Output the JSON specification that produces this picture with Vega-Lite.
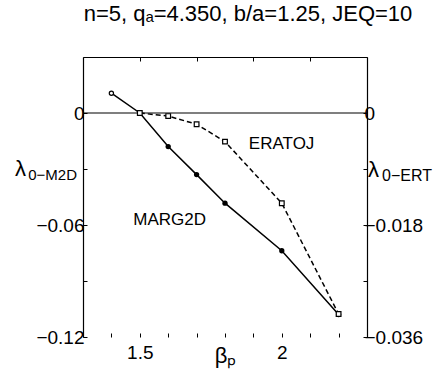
{
  "$schema": "https://vega.github.io/schema/vega-lite/v6.json",
  "width": 284,
  "height": 280,
  "autosize": {"type": "none"},
  "padding": {"left": 83, "top": 57, "right": 75, "bottom": 40},
  "background": "white",
  "title": {"text": "n=5, qₐ=4.350, b/a=1.25, JEQ=10", "fontSize": 22, "font": "Liberation Sans", "fontWeight": "normal", "color": "black", "offset": 31, "dx": 23},
  "config": {
    "view": {"stroke": null},
    "axis": {"labelFont": "Liberation Sans", "labelFontSize": 19, "labelColor": "black", "domainColor": "black", "tickColor": "black", "grid": false, "titleFont": "Liberation Sans", "titleColor": "black", "titleFontWeight": "normal", "domainWidth": 1.2, "tickWidth": 1, "labelOverlap": false, "labelBound": false, "labelFlush": false}
  },
  "data": {"values": [
    {"code": "MARG2D", "beta": 1.4, "lambda": 0.0106},
    {"code": "MARG2D", "beta": 1.5, "lambda": 0.0},
    {"code": "MARG2D", "beta": 1.6, "lambda": -0.018},
    {"code": "MARG2D", "beta": 1.7, "lambda": -0.033},
    {"code": "MARG2D", "beta": 1.8, "lambda": -0.0483},
    {"code": "MARG2D", "beta": 2.0, "lambda": -0.0738},
    {"code": "MARG2D", "beta": 2.2, "lambda": -0.108},
    {"code": "ERATOJ", "beta": 1.5, "lambda": 0.0},
    {"code": "ERATOJ", "beta": 1.6, "lambda": -0.0005},
    {"code": "ERATOJ", "beta": 1.7, "lambda": -0.0018},
    {"code": "ERATOJ", "beta": 1.8, "lambda": -0.0046},
    {"code": "ERATOJ", "beta": 2.0, "lambda": -0.0145},
    {"code": "ERATOJ", "beta": 2.2, "lambda": -0.0323}
  ]},
  "resolve": {"scale": {"y": "independent"}, "axis": {"x": "independent", "y": "independent"}},
  "layer": [
    {
      "layer": [
        {
          "data": {"values": [{}]},
          "mark": {"type": "rule", "color": "black", "strokeWidth": 1.2},
          "encoding": {"y": {"datum": 0, "type": "quantitative", "title": null, "scale": {"domain": [-0.12, 0.03], "nice": false, "zero": false}}}
        },
        {
          "transform": [{"filter": "datum.code === 'MARG2D'"}],
          "mark": {"type": "line", "color": "black", "strokeWidth": 1.5},
          "encoding": {
            "x": {"field": "beta", "type": "quantitative", "title": "βₚ",
              "scale": {"domain": [1.3, 2.3], "nice": false, "zero": false},
              "axis": {"orient": "bottom", "title": "βₚ", "values": [1.5, 2], "format": "~g", "labelOverlap": false, "domain": false, "tickSize": -4, "labelPadding": 10, "titleFontSize": 22, "titlePadding": -17}},
            "y": {"field": "lambda", "type": "quantitative", "title": null,
              "scale": {"domain": [-0.12, 0.03], "nice": false, "zero": false},
              "axis": {"orient": "left", "values": [0.015, 0, -0.015, -0.03, -0.045, -0.06, -0.075, -0.09, -0.105, -0.12], "labelExpr": "datum.value === 0 ? '0' : (datum.value === -0.06 ? '−0.06' : (datum.value === -0.12 ? '−0.12' : ''))", "labelOverlap": false, "tickSize": -4, "labelPadding": 3}}
          }
        },
        {
          "transform": [{"filter": "datum.code === 'MARG2D' && datum.beta > 1.45"}],
          "mark": {"type": "point", "shape": "circle", "filled": true, "color": "black", "size": 28, "opacity": 1},
          "encoding": {
            "x": {"field": "beta", "type": "quantitative"},
            "y": {"field": "lambda", "type": "quantitative", "title": null}
          }
        },
        {
          "transform": [{"filter": "datum.code === 'MARG2D' && datum.beta < 1.45"}],
          "mark": {"type": "point", "shape": "circle", "filled": true, "fill": "white", "stroke": "black", "strokeWidth": 1.2, "size": 18, "opacity": 1},
          "encoding": {
            "x": {"field": "beta", "type": "quantitative"},
            "y": {"field": "lambda", "type": "quantitative", "title": null}
          }
        },
        {
          "data": {"values": [{}]},
          "mark": {"type": "text", "text": "MARG2D", "font": "Liberation Sans", "fontSize": 17, "align": "left", "baseline": "middle", "color": "black"},
          "encoding": {
            "x": {"datum": 1.477, "type": "quantitative"},
            "y": {"datum": -0.0573, "type": "quantitative", "title": null}
          }
        },
        {
          "data": {"values": [{}]},
          "mark": {"type": "text", "text": "λ", "font": "Liberation Sans", "fontSize": 22, "align": "right", "baseline": "middle", "color": "black", "dx": -57, "clip": false},
          "encoding": {
            "x": {"datum": 1.3, "type": "quantitative"},
            "y": {"datum": -0.03, "type": "quantitative", "title": null}
          }
        },
        {
          "data": {"values": [{}]},
          "mark": {"type": "text", "text": "0−M2D", "font": "Liberation Sans", "fontSize": 15, "align": "right", "baseline": "middle", "color": "black", "dx": -6, "dy": 6, "clip": false},
          "encoding": {
            "x": {"datum": 1.3, "type": "quantitative"},
            "y": {"datum": -0.03, "type": "quantitative", "title": null}
          }
        }
      ]
    },
    {
      "layer": [
        {
          "transform": [{"filter": "datum.code === 'ERATOJ'"}],
          "mark": {"type": "line", "color": "black", "strokeWidth": 1.5, "strokeDash": [5, 3]},
          "encoding": {
            "x": {"field": "beta", "type": "quantitative", "title": null,
              "scale": {"domain": [1.3, 2.3], "nice": false, "zero": false},
              "axis": {"orient": "top", "title": null, "values": [1.3, 1.4, 1.5, 1.6, 1.7, 1.8, 1.9, 2.0, 2.1, 2.2, 2.3], "labels": false, "tickSize": -4}},
            "y": {"field": "lambda", "type": "quantitative", "title": null,
              "scale": {"domain": [-0.036, 0.009], "nice": false, "zero": false},
              "axis": {"orient": "right", "values": [0.0045, 0, -0.0045, -0.009, -0.0135, -0.018, -0.0225, -0.027, -0.0315, -0.036], "labelExpr": "datum.value === 0 ? '0' : (datum.value === -0.018 ? '−0.018' : (datum.value === -0.036 ? '−0.036' : ''))", "labelOverlap": false, "tickSize": -4, "labelPadding": 1}}
          }
        },
        {
          "transform": [{"filter": "datum.code === 'ERATOJ'"}],
          "mark": {"type": "point", "shape": "square", "filled": true, "fill": "white", "stroke": "black", "strokeWidth": 1.2, "size": 22, "opacity": 1},
          "encoding": {
            "x": {"field": "beta", "type": "quantitative", "title": null},
            "y": {"field": "lambda", "type": "quantitative", "title": null}
          }
        },
        {
          "data": {"values": [{}]},
          "mark": {"type": "text", "text": "ERATOJ", "font": "Liberation Sans", "fontSize": 17, "align": "left", "baseline": "middle", "color": "black"},
          "encoding": {
            "x": {"datum": 1.884, "type": "quantitative", "title": null},
            "y": {"datum": -0.00495, "type": "quantitative", "title": null}
          }
        },
        {
          "data": {"values": [{}]},
          "mark": {"type": "text", "text": "λ", "font": "Liberation Sans", "fontSize": 22, "align": "left", "baseline": "middle", "color": "black", "dx": 1, "clip": false},
          "encoding": {
            "x": {"datum": 2.3, "type": "quantitative", "title": null},
            "y": {"datum": -0.0092, "type": "quantitative", "title": null}
          }
        },
        {
          "data": {"values": [{}]},
          "mark": {"type": "text", "text": "0−ERT", "font": "Liberation Sans", "fontSize": 16, "align": "left", "baseline": "middle", "color": "black", "dx": 15, "dy": 6, "clip": false},
          "encoding": {
            "x": {"datum": 2.3, "type": "quantitative", "title": null},
            "y": {"datum": -0.0092, "type": "quantitative", "title": null}
          }
        }
      ]
    },
    {
      "transform": [{"filter": "datum.code === 'MARG2D'"}],
      "mark": {"type": "point", "opacity": 0},
      "encoding": {
        "x": {"field": "beta", "type": "quantitative", "title": null,
          "scale": {"domain": [1.3, 2.3], "nice": false, "zero": false},
          "axis": {"orient": "bottom", "title": null, "values": [1.3, 1.4, 1.6, 1.7, 1.8, 1.9, 2.1, 2.2, 2.3], "labels": false, "domain": false, "tickSize": -4}},
        "y": {"field": "lambda", "type": "quantitative", "axis": null,
          "scale": {"domain": [-0.12, 0.03], "nice": false, "zero": false}}
      }
    }
  ]
}
